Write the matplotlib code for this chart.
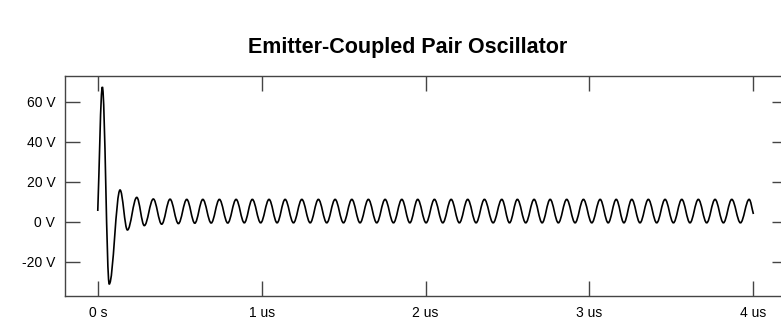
import matplotlib
matplotlib.use("Agg")
import matplotlib.pyplot as plt
from matplotlib.path import Path
from matplotlib.patches import PathPatch

# turning points of the waveform (time in us, volts)
times_us = [
    0.000, 0.028, 0.070, 0.136, 0.181, 0.238, 0.284, 0.339, 0.390,
    0.441, 0.492, 0.543, 0.592, 0.641, 0.692, 0.742, 0.793, 0.844,
    0.894, 0.943, 0.994, 1.045, 1.094, 1.143, 1.194, 1.245, 1.296,
    1.346, 1.397, 1.448, 1.499, 1.550, 1.600, 1.651, 1.702, 1.753,
    1.804, 1.855, 1.904, 1.952, 2.003, 2.054, 2.105, 2.156, 2.206,
    2.257, 2.308, 2.359, 2.412, 2.465, 2.512, 2.560, 2.611, 2.662,
    2.711, 2.760, 2.810, 2.861, 2.912, 2.963, 3.014, 3.065, 3.114,
    3.163, 3.210, 3.258, 3.308, 3.359, 3.410, 3.461, 3.512, 3.563,
    3.613, 3.664, 3.715, 3.766, 3.817, 3.868, 3.921, 3.974, 4.000,
]
volts = [
    5.5, 67.5, -31.0, 16.0, -4.0, 12.3, -1.8, 11.5, -1.1,
    11.4, -0.8, 11.3, -0.6, 11.3, -0.5, 11.3, -0.5, 11.3,
    -0.4, 11.3, -0.4, 11.3, -0.4, 11.3, -0.4, 11.3, -0.4,
    11.3, -0.4, 11.3, -0.4, 11.3, -0.4, 11.3, -0.4, 11.3,
    -0.4, 11.3, -0.4, 11.3, -0.4, 11.3, -0.4, 11.3, -0.4,
    11.3, -0.4, 11.3, -0.4, 11.3, -0.4, 11.3, -0.4, 11.3,
    -0.4, 11.3, -0.4, 11.3, -0.4, 11.3, -0.4, 11.3, -0.4,
    11.3, -0.4, 11.3, -0.4, 11.3, -0.4, 11.3, -0.4, 11.3,
    -0.4, 11.3, -0.4, 11.3, -0.4, 11.3, -0.4, 11.3, 4.0,
]

x_ticks = [0, 1, 2, 3, 4]
x_labels = ["0 s", "1 us", "2 us", "3 us", "4 us"]
y_ticks = [-20, 0, 20, 40, 60]
y_labels = ["-20 V", "0 V", "20 V", "40 V", "60 V"]

plt.rcParams["font.family"] = ["Liberation Sans", "DejaVu Sans"]

fig = plt.figure(figsize=(7.81, 3.28), dpi=100)
ax = fig.add_axes([0.0832, 0.0976, 0.9245, 0.6707])

# smooth trace: bezier segments with flat tangents at each turning point
a = 0.364
n = len(times_us)
verts = [(times_us[0], volts[0])]
codes = [Path.MOVETO]
for i in range(n - 1):
    t0, t1 = times_us[i], times_us[i + 1]
    v0, v1 = volts[i], volts[i + 1]
    dt = t1 - t0
    if i == 0:
        c1 = (t0 + dt / 3, v0 + (v1 - v0) / 3)
    else:
        c1 = (t0 + a * dt, v0)
    if i + 1 == n - 1:
        c2 = (t1 - dt / 3, v1 - (v1 - v0) / 3)
    else:
        c2 = (t1 - a * dt, v1)
    verts += [c1, c2, (t1, v1)]
    codes += [Path.CURVE4] * 3

ax.add_patch(PathPatch(Path(verts, codes), fill=False, edgecolor="black", lw=1.2))

ax.set_xlim(-0.2, 4.205)
ax.set_ylim(-37, 73)
ax.set_xticks(x_ticks)
ax.set_xticklabels(x_labels)
ax.set_yticks(y_ticks)
ax.set_yticklabels(y_labels)

ax.tick_params(axis="both", direction="in", length=10.5, width=1,
               color="#444444", labelsize=10, pad=7,
               top=True, right=True)
for s in ax.spines.values():
    s.set_color("#444444")
    s.set_linewidth(1)

fig.text(0.522, 0.855, "Emitter-Coupled Pair Oscillator", ha="center", va="center",
         fontsize=15.5, fontweight="bold")

fig.savefig("out.png", dpi=100)
